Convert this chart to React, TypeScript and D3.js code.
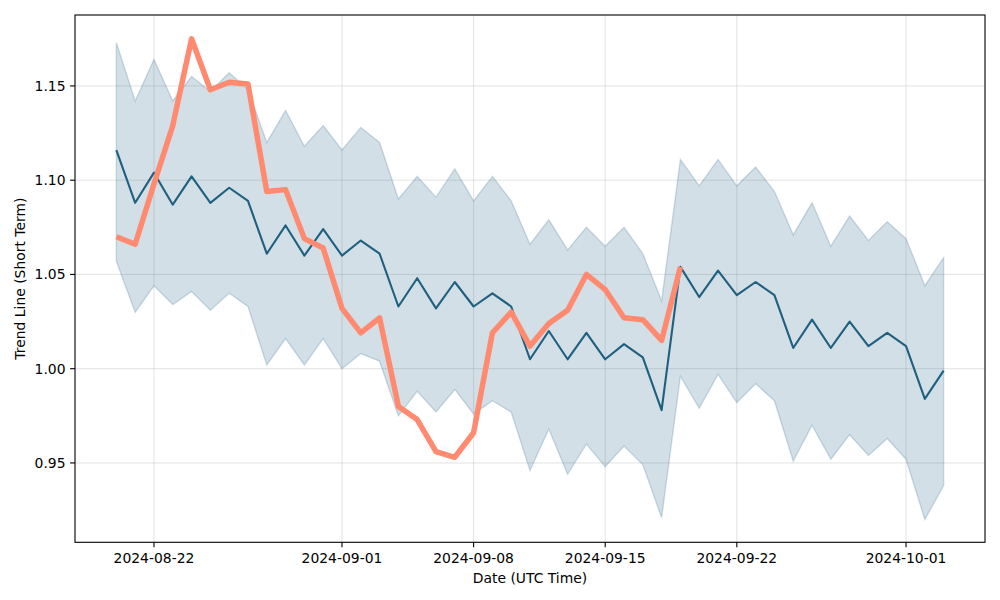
import * as d3 from "d3";
import { useEffect, useRef } from "react";

// daily values from 2024-08-20 to 2024-10-03
const startDate = "2024-08-20";

const trend = [
  1.116, 1.088, 1.104, 1.087, 1.102, 1.088, 1.096, 1.089, 1.061, 1.076,
  1.060, 1.074, 1.060, 1.068, 1.061, 1.033, 1.048, 1.032, 1.046, 1.033,
  1.040, 1.033, 1.005, 1.020, 1.005, 1.019, 1.005, 1.013, 1.006, 0.978,
  1.054, 1.038, 1.052, 1.039, 1.046, 1.039, 1.011, 1.026, 1.011, 1.025,
  1.012, 1.019, 1.012, 0.984, 0.999,
];

const upper = [
  1.173, 1.142, 1.164, 1.142, 1.155, 1.147, 1.157, 1.148, 1.120, 1.137,
  1.118, 1.129, 1.116, 1.128, 1.120, 1.090, 1.102, 1.091, 1.106, 1.089,
  1.102, 1.089, 1.066, 1.079, 1.063, 1.075, 1.065, 1.075, 1.061, 1.036,
  1.111, 1.097, 1.111, 1.097, 1.107, 1.094, 1.071, 1.088, 1.065, 1.081,
  1.068, 1.078, 1.069, 1.044, 1.059,
];

const lower = [
  1.057, 1.030, 1.044, 1.034, 1.041, 1.031, 1.040, 1.033, 1.002, 1.016,
  1.002, 1.016, 1.000, 1.008, 1.004, 0.975, 0.988, 0.977, 0.989, 0.976,
  0.983, 0.977, 0.946, 0.968, 0.944, 0.960, 0.948, 0.959, 0.949, 0.921,
  0.996, 0.979, 0.997, 0.982, 0.992, 0.983, 0.951, 0.970, 0.952, 0.965,
  0.954, 0.963, 0.952, 0.920, 0.938,
];

const actual = [
  1.070, 1.066, 1.098, 1.129, 1.175, 1.148, 1.152, 1.151, 1.094, 1.095,
  1.069, 1.064, 1.032, 1.019, 1.027, 0.980, 0.973, 0.956, 0.953, 0.966,
  1.019, 1.030, 1.012, 1.024, 1.031, 1.050, 1.042, 1.027, 1.026, 1.015,
  1.054,
];

const xTicks = ["2024-08-22", "2024-09-01", "2024-09-08", "2024-09-15", "2024-09-22", "2024-10-01"];
const yTicks = [0.95, 1.0, 1.05, 1.1, 1.15];

const DAY = 86400000;

export default function App() {
  const svgRef = useRef<SVGSVGElement>(null);

  useEffect(() => {
    if (!svgRef.current) return;
    const svg = d3.select(svgRef.current);
    svg.selectAll("*").remove();

    const left = 75, right = 985, top = 15, bottom = 542.3;
    const font = "DejaVu Sans, sans-serif";

    const t0 = new Date(startDate + "T00:00:00Z").getTime();
    const dates = trend.map((_, i) => new Date(t0 + i * DAY));
    const span = (dates.length - 1) * DAY;
    const pad = span * 0.05;

    const x = d3
      .scaleUtc()
      .domain([new Date(t0 - pad), new Date(t0 + span + pad)])
      .range([left, right]);
    const y = d3.scaleLinear().domain([0.9079, 1.18764]).range([bottom, top]);

    // grid
    const grid = svg.append("g").attr("stroke", "#b0b0b0").attr("stroke-opacity", 0.35).attr("stroke-width", 1);
    xTicks.forEach((t) => {
      const px = x(new Date(t + "T00:00:00Z"));
      grid.append("line").attr("x1", px).attr("x2", px).attr("y1", top).attr("y2", bottom);
    });
    yTicks.forEach((v) => {
      grid.append("line").attr("x1", left).attr("x2", right).attr("y1", y(v)).attr("y2", y(v));
    });

    // band
    const band = d3
      .area<number>()
      .x((_, i) => x(dates[i]))
      .y0((_, i) => y(lower[i]))
      .y1((d) => y(d));
    svg
      .append("path")
      .attr("d", band(upper)!)
      .attr("fill", "#1f5f80")
      .attr("fill-opacity", 0.2)
      .attr("stroke", "#1f5f80")
      .attr("stroke-opacity", 0.2)
      .attr("stroke-width", 1.4);

    const line = d3
      .line<number>()
      .x((_, i) => x(dates[i]))
      .y((d) => y(d));

    svg
      .append("path")
      .attr("d", line(trend)!)
      .attr("fill", "none")
      .attr("stroke", "#1f5f80")
      .attr("stroke-width", 2.1)
      .attr("stroke-linejoin", "round");

    svg
      .append("path")
      .attr("d", line(actual)!)
      .attr("fill", "none")
      .attr("stroke", "#ff8a70")
      .attr("stroke-width", 5.5)
      .attr("stroke-linejoin", "round");

    // frame
    svg
      .append("rect")
      .attr("x", left)
      .attr("y", top)
      .attr("width", right - left)
      .attr("height", bottom - top)
      .attr("fill", "none")
      .attr("stroke", "black")
      .attr("stroke-width", 1.1);

    // x axis ticks
    const xa = svg.append("g").attr("font-family", font).attr("font-size", 13.9);
    xTicks.forEach((t) => {
      const px = x(new Date(t + "T00:00:00Z"));
      xa.append("line").attr("x1", px).attr("x2", px).attr("y1", bottom).attr("y2", bottom + 4.9).attr("stroke", "black").attr("stroke-width", 1.1);
      xa.append("text").attr("x", px).attr("y", bottom + 21).attr("text-anchor", "middle").text(t);
    });
    xa.append("text")
      .attr("x", (left + right) / 2)
      .attr("y", 583)
      .attr("text-anchor", "middle")
      .text("Date (UTC Time)");

    // y axis ticks
    const ya = svg.append("g").attr("font-family", font).attr("font-size", 13.9);
    yTicks.forEach((v) => {
      ya.append("line").attr("x1", left - 4.9).attr("x2", left).attr("y1", y(v)).attr("y2", y(v)).attr("stroke", "black").attr("stroke-width", 1.1);
      ya.append("text")
        .attr("x", left - 9.5)
        .attr("y", y(v))
        .attr("dy", "0.35em")
        .attr("text-anchor", "end")
        .text(v.toFixed(2));
    });
    ya.append("text")
      .attr("transform", `translate(25,${(top + bottom) / 2}) rotate(-90)`)
      .attr("text-anchor", "middle")
      .text("Trend Line (Short Term)");
  }, []);

  return (
    <svg
      ref={svgRef}
      width={1000}
      height={600}
      style={{ position: "absolute", left: 0, top: 0, background: "white" }}
    />
  );
}
